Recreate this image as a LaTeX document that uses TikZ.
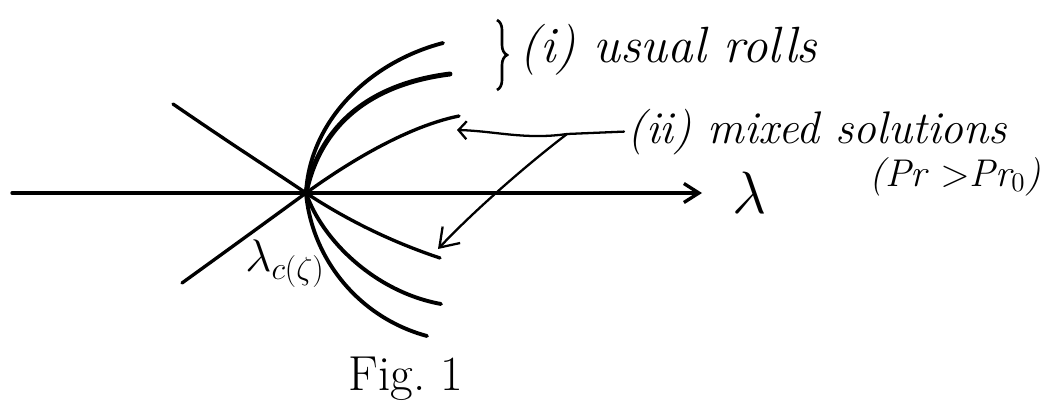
\RequirePackage{fix-cm}
\documentclass[tikz,border=0pt]{standalone}
\usepackage{amsmath, amssymb}
\usepackage{tikz}
\usetikzlibrary{arrows.meta, decorations.pathreplacing}
\tikzset{
  branch/.style={line width=2.2pt, line cap=round},
  boldbranch/.style={branch, line width=2.8pt},
  thinbranch/.style={branch, line width=1.9pt},
  axisline/.style={line width=1.9pt, line cap=round, -{Straight Barb[length=3mm, width=3.8mm]}},
  pointer/.style={line width=1.3pt, line cap=round, -{Straight Barb[length=1.6mm, width=3.6mm]}},
  bigpointer/.style={pointer, -{Straight Barb[length=3.5mm, width=4.8mm]}},
  bracebar/.style={line width=1.5pt, decorate, decoration={brace, amplitude=2mm}},
  note/.style={font=\itshape\fontsize{26}{29}\selectfont, inner sep=2pt}
}

\begin{document}
\begin{tikzpicture}[
  x=0.02cm, y=-0.02cm,
  axislabel/.style={font=\fontsize{34}{36}\selectfont, inner sep=0pt},
  critlabel/.style={font=\fontsize{26}{28}\selectfont, inner sep=0pt},
  caption/.style={font=\fontsize{28}{30}\selectfont, inner sep=0pt}
]
\useasboundingbox (0,0) rectangle (1040,412);

% Coordinates (crossing point and branch ends)
\coordinate (lc) at (306,193);
\coordinate (ax0) at (12,193);
\coordinate (ax1) at (702,193);
\coordinate (ul) at (173,104);
\coordinate (ll) at (182,283);
\coordinate (r1) at (443,43);
\coordinate (r2) at (450,74);
\coordinate (r3) at (459,116);
\coordinate (r4) at (440,258);
\coordinate (r5) at (441,304);
\coordinate (r6) at (427,336);

% Axis
\draw[axisline] (ax0) -- (ax1);

% Crossing lines
\draw[thinbranch] (ul) .. controls (240,150) and (275,172) .. (lc)
  .. controls (350,222) and (395,243) .. (r4);
\draw[thinbranch] (ll) .. controls (225,252) and (280,212) .. (lc)
  .. controls (335,172) and (400,128) .. (r3);

% Roll branches
\draw[branch] (lc) .. controls (310,120) and (370,62) .. (r1);
\draw[boldbranch] (lc) .. controls (320,125) and (370,84) .. (r2);
\draw[branch] (lc) .. controls (322,240) and (375,292) .. (r5);
\draw[branch] (lc) .. controls (312,260) and (360,318) .. (r6);

% Labels
\coordinate (brtop) at (497,20);
\coordinate (brbot) at (497,90);
\draw[bracebar] (brtop) -- (brbot);
\node[note, anchor=base west, font=\itshape\fontsize{29}{32}\selectfont] (rolls) at (516,63) {(i) usual rolls};
\node[note, anchor=base west] (mixed) at (624,143) {(ii) mixed solutions};
\node[note, anchor=base west, font=\itshape\fontsize{22}{24}\selectfont] (prandtl) at (866,186) {(Pr $>$Pr$_0$)};
\node[axislabel] (lam) at (750,193) {$\lambda$};
\node[critlabel] (lamc) at (285,264) {$\lambda_{c(\zeta)}$};
\node[caption] (fig) at (406,379) {Fig.~1};

% Pointers to the mixed branches
\coordinate (split) at (567,134);
\coordinate (tipA) at (457,130);
\coordinate (tipB) at (438,249);
\draw[pointer] (mixed.west) -- (split) .. controls (525,140) and (495,131) .. (tipA);
\draw[bigpointer] (split) .. controls (520,170) and (470,215) .. (tipB);

\end{tikzpicture}
\end{document}
